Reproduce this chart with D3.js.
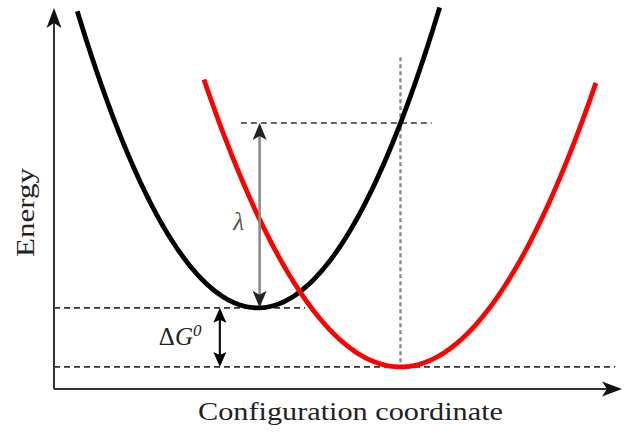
<!DOCTYPE html>
<html>
<head>
<meta charset="utf-8">
<script src="https://cdn.jsdelivr.net/npm/d3@7"></script>
<style>
  html, body { margin: 0; padding: 0; background: #fff; }
  svg { display: block; }
</style>
</head>
<body>
<script>
// Two harmonic potential-energy curves (Marcus picture)
const curveNames   = ["initial", "final"];
const minCoord     = [3.59, 6.10];   // configuration coordinate of each minimum
const minEnergy    = [2.13, 0.58];   // energy at each minimum
const forceConst   = [0.770, 0.630]; // curvature of each parabola
const coordStart   = [0.41, 2.64];
const coordEnd     = [6.79, 9.54];

// Guide-line extents (configuration coordinate)
const minLineEnd      = [4.42, 9.88]; // dashed levels through each minimum
const lambdaLineRange = [3.29, 6.65];
const dottedTop       = 8.71;
const lambdaArrowAt   = 3.62;
const dGArrowAt       = 2.92;

const axisLabels = { x: "Configuration coordinate", y: "Energy" };

const W = 626, H = 434;
const svg = d3.select("body").append("svg").attr("width", W).attr("height", H);

const x = d3.scaleLinear().domain([0, 10]).range([54, 622]);
const y = d3.scaleLinear().domain([0, 10]).range([389, 8]);

const curveColor = ["#000000", "#ff0000"];
const energyAt = (i, q) => minEnergy[i] + forceConst[i] * (q - minCoord[i]) ** 2;

// λ level: initial curve evaluated at the final minimum
const lambdaLevel = energyAt(0, minCoord[1]);

const line = d3.line().x(d => x(d[0])).y(d => y(d[1]));

// --- dashed guides ---
const g = svg.append("g");
minEnergy.forEach((e, i) => {
  g.append("line")
    .attr("x1", x(0)).attr("x2", x(minLineEnd[i]))
    .attr("y1", y(e)).attr("y2", y(e))
    .attr("stroke", "#333").attr("stroke-width", 1.6)
    .attr("stroke-dasharray", "6,4");
});
g.append("line")
  .attr("x1", x(lambdaLineRange[0])).attr("x2", x(lambdaLineRange[1]))
  .attr("y1", y(lambdaLevel)).attr("y2", y(lambdaLevel))
  .attr("stroke", "#333").attr("stroke-width", 1.6)
  .attr("stroke-dasharray", "6,4");
g.append("line")
  .attr("x1", x(minCoord[1])).attr("x2", x(minCoord[1]))
  .attr("y1", y(dottedTop)).attr("y2", y(minEnergy[1]))
  .attr("stroke", "#8a8a8a").attr("stroke-width", 2.4)
  .attr("stroke-dasharray", "4,3");

// --- axes with arrowheads ---
function arrowHead(tipX, tipY, dir, len, half, notch, fill) {
  // dir: unit vector pointing toward the tip
  const [dx, dy] = dir;
  const px = -dy, py = dx;
  const bx = tipX - dx * len, by = tipY - dy * len;
  const nx = tipX - dx * (len - notch), ny = tipY - dy * (len - notch);
  return svg.append("path")
    .attr("d", `M${tipX},${tipY}L${bx + px * half},${by + py * half}L${nx},${ny}L${bx - px * half},${by - py * half}Z`)
    .attr("fill", fill);
}

const axisColor = "#333";
svg.append("line")
  .attr("x1", x(0)).attr("x2", x(0)).attr("y1", y(0)).attr("y2", y(10) + 10)
  .attr("stroke", axisColor).attr("stroke-width", 2);
arrowHead(x(0), y(10), [0, -1], 20, 7.5, 5, "#111");

svg.append("line")
  .attr("x1", x(0)).attr("x2", x(10) - 10).attr("y1", y(0)).attr("y2", y(0))
  .attr("stroke", axisColor).attr("stroke-width", 2);
arrowHead(x(10), y(0), [1, 0], 20, 7.5, 5, "#111");

// --- parabolas ---
curveNames.forEach((name, i) => {
  const pts = d3.range(0, 201).map(k => {
    const q = coordStart[i] + (coordEnd[i] - coordStart[i]) * k / 200;
    return [q, energyAt(i, q)];
  });
  svg.append("path")
    .attr("class", "curve " + name)
    .attr("d", line(pts))
    .attr("fill", "none")
    .attr("stroke", curveColor[i])
    .attr("stroke-width", 4.8)
    .attr("stroke-linecap", "butt");
});

// --- λ double arrow ---
{
  const ax = x(lambdaArrowAt), top = y(lambdaLevel), bot = y(minEnergy[0]);
  svg.append("line")
    .attr("x1", ax).attr("x2", ax).attr("y1", top + 10).attr("y2", bot - 10)
    .attr("stroke", "#8c8c8c").attr("stroke-width", 2.6);
  arrowHead(ax, top, [0, -1], 17, 7, 4, "#222");
  arrowHead(ax, bot, [0, 1], 17, 7, 4, "#222");
  svg.append("text")
    .attr("x", ax - 21).attr("y", (top + bot) / 2 + 15)
    .attr("text-anchor", "middle")
    .attr("font-family", "'Liberation Serif', 'DejaVu Serif', serif")
    .attr("font-style", "italic").attr("font-size", 25)
    .attr("fill", "#555")
    .text("λ");
}

// --- ΔG⁰ double arrow ---
{
  const ax = x(dGArrowAt), top = y(minEnergy[0]), bot = y(minEnergy[1]);
  svg.append("line")
    .attr("x1", ax).attr("x2", ax).attr("y1", top + 8).attr("y2", bot - 8)
    .attr("stroke", "#111").attr("stroke-width", 2.2);
  arrowHead(ax, top, [0, -1], 15, 6.5, 3, "#000");
  arrowHead(ax, bot, [0, 1], 15, 6.5, 3, "#000");
  const t = svg.append("text")
    .attr("x", ax - 61).attr("y", (top + bot) / 2 + 8)
    .attr("font-family", "'Liberation Serif', 'DejaVu Serif', serif")
    .attr("font-size", 25)
    .attr("fill", "#222");
  t.append("tspan").text("Δ");
  t.append("tspan").attr("font-style", "italic").text("G");
  t.append("tspan").attr("font-size", 17).attr("font-style", "italic").attr("dy", -9).text("0");
}

// --- axis titles ---
svg.append("text")
  .attr("x", 198).attr("y", 420)
  .attr("font-family", "'Liberation Serif', 'DejaVu Serif', serif")
  .attr("font-size", 26)
  .attr("fill", "#222")
  .attr("textLength", 305).attr("lengthAdjust", "spacingAndGlyphs")
  .text(axisLabels.x);

svg.append("text")
  .attr("transform", "translate(34,257) rotate(-90)")
  .attr("font-family", "'Liberation Serif', 'DejaVu Serif', serif")
  .attr("font-size", 25)
  .attr("fill", "#222")
  .attr("textLength", 89).attr("lengthAdjust", "spacingAndGlyphs")
  .text(axisLabels.y);
</script>
</body>
</html>
